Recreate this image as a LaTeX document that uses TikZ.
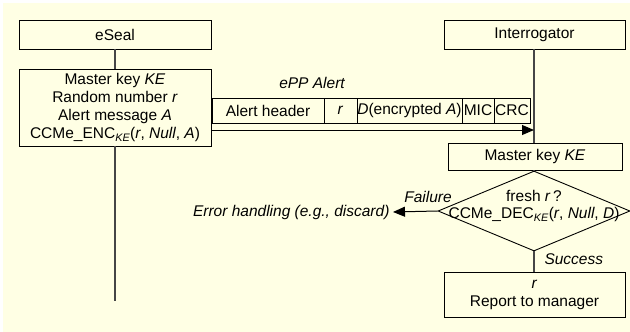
\documentclass[tikz,border=0pt]{standalone}
\usepackage{fontspec}
\setmainfont{Liberation Sans}
\usetikzlibrary{shapes.geometric,arrows.meta}
\definecolor{sealbg}{RGB}{255,255,228}
\definecolor{lifegray}{RGB}{70,70,70}

\begin{document}
\begin{tikzpicture}[x=1pt, y=-1pt,
    box/.style={draw=black, line width=0.9pt, inner sep=0pt, align=center,
        font=\fontsize{15.5}{18}\selectfont},
    cell/.style={box, minimum height=25pt},
    life/.style={draw=lifegray, line width=1.3pt},
    lbl/.style={font=\fontsize{15.5}{18}\selectfont\itshape},
    tip/.style={-{Triangle[length=12pt, width=10pt]}, draw=black, line width=1pt}]
    % Background
    \useasboundingbox (0,0) rectangle (630,332);
    \fill[sealbg] (3,3) rectangle (630,332);

    % eSeal side
    \node[box, minimum width=192pt, minimum height=29pt] (eseal) at (115,34.5) {eSeal};
    \node[box, minimum width=192pt, minimum height=77pt] (enc) at (115,107.5)
        {Master key \textit{KE}\\Random number \textit{r}\\Alert message \textit{A}\\
         CCMe\_ENC\textsubscript{\itshape KE}(\textit{r}, \textit{Null}, \textit{A})};
    \coordinate (eend) at (115,301);
    \draw[life] (eseal) -- (enc);
    \draw[life] (enc) -- (eend);

    % Interrogator side
    \node[box, minimum width=181pt, minimum height=29pt] (intg) at (534.5,34.5) {Interrogator};
    \node[box, minimum width=174pt, minimum height=27pt] (mkey) at (535,156.5) {Master key \textit{KE}};
    \draw[life] (intg.south -| 534,0) -- (mkey.north -| 534,0);

    % ePP Alert frame
    \node[lbl] (epp) at (312,83) {ePP Alert};
    \node[cell, minimum width=112pt] (hdr) at (268,110.5) {Alert header};
    \node[cell, minimum width=33pt] (rr) at (340.5,110.5) {\textit{r}};
    \node[cell, minimum width=105pt] (dd) at (409.5,110.5) {\textit{D}(encrypted \textit{A})};
    \node[cell, minimum width=32pt] (mic) at (478,110.5) {MIC};
    \node[cell, minimum width=36pt] (crc) at (512,110.5) {CRC};
    \coordinate (snd) at (211,130);
    \coordinate (rcv) at (534,130);
    \draw[tip] (snd) -- (rcv);

    % Check and outcomes
    \node[draw, diamond, line width=0.9pt, inner sep=0pt,
        minimum width=192pt, minimum height=80pt] (chk) at (534,211) {};
    \node[align=center, inner sep=0pt, font=\fontsize{15.5}{17}\selectfont] (chktxt)
        at ([yshift=5pt]chk.center)
        {fresh \textit{r}\,?\\CCMe\_DEC\textsubscript{\itshape KE}(\textit{r}, \textit{Null}, \textit{D})};
    \draw[life] (mkey.south -| chk.north) -- (chk.north);

    \node[lbl, anchor=east] (err) at (393,212) {Error handling (e.g., discard)};
    \draw[tip] (chk.west) -- (err.east);
    \node[lbl] (fail) at (428,197) {Failure};

    \node[box, minimum width=181pt, minimum height=45pt] (rep) at (534.5,294.5)
        {\textit{r}\\Report to manager};
    \draw[life] (chk.south) -- (rep.north -| chk.south);
    \node[lbl, anchor=west] (succ) at (541,259) {Success};
\end{tikzpicture}
\end{document}
